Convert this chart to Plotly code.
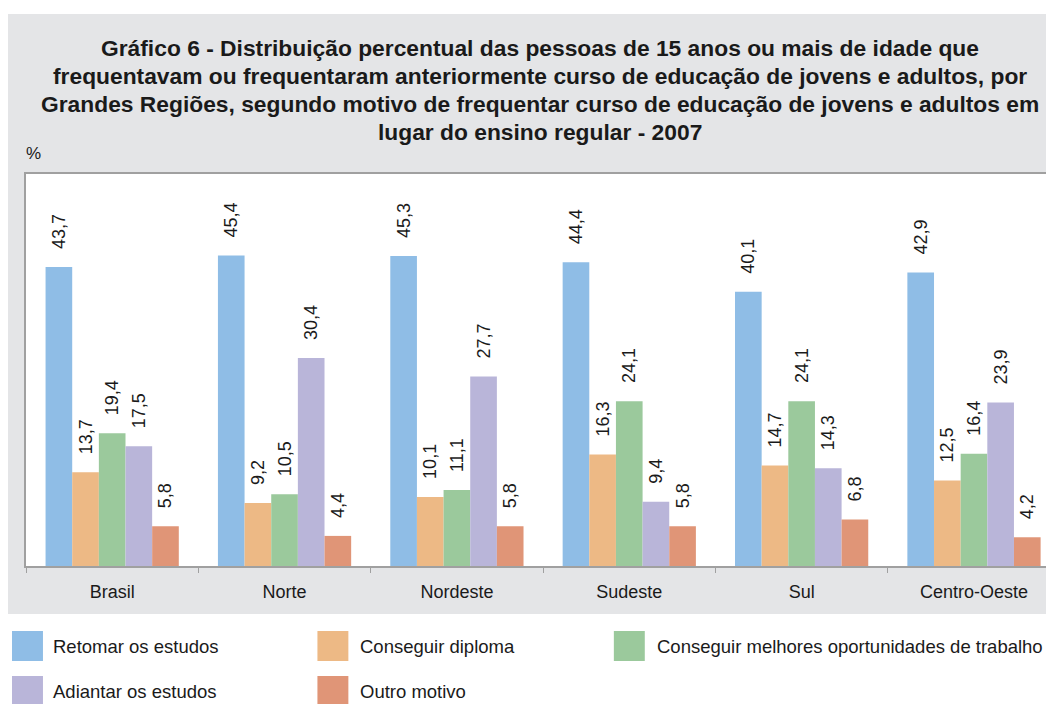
import plotly.graph_objects as go

regions = ["Brasil", "Norte", "Nordeste", "Sudeste", "Sul", "Centro-Oeste"]
series_names = [
    "Retomar os estudos",
    "Conseguir diploma",
    "Conseguir melhores oportunidades de trabalho",
    "Adiantar os estudos",
    "Outro motivo",
]
retomar = [43.7, 45.4, 45.3, 44.4, 40.1, 42.9]
diploma = [13.7, 9.2, 10.1, 16.3, 14.7, 12.5]
trabalho = [19.4, 10.5, 11.1, 24.1, 24.1, 16.4]
adiantar = [17.5, 30.4, 27.7, 9.4, 14.3, 23.9]
outro = [5.8, 4.4, 5.8, 5.8, 6.8, 4.2]
series_values = [retomar, diploma, trabalho, adiantar, outro]
colors = ["#8fbde6", "#edb985", "#9bc99c", "#b9b5d9", "#e09577"]

title_lines = [
    "Gráfico 6 - Distribuição percentual das pessoas de 15 anos ou mais de idade que",
    "frequentavam ou frequentaram anteriormente curso de educação de jovens e adultos, por",
    "Grandes Regiões, segundo motivo de frequentar curso de educação de jovens e adultos em",
    "lugar do ensino regular - 2007",
]

FONT = "Liberation Sans, Arial, Helvetica, sans-serif"
OFF = 8  # default page body margin
W, H = 1054 - OFF, 704 - OFF
# plot area in page pixels
L, R, T, B = 26, 1048, 174, 566
CAT_W = 172.7  # pixels per category in the reference (last one is cut by the frame)


def px(x):
    return (x - L) / (R - L)


def py(y):
    return (B - y) / (B - T)


def fmt(v):
    return f"{v:.1f}".replace(".", ",")


fig = go.Figure()
pad = "\u00a0" * 3
for name, vals, col in zip(series_names, series_values, colors):
    fig.add_trace(go.Bar(
        name=name, x=regions, y=vals, marker=dict(color=col, line=dict(width=0)),
        text=[pad + fmt(v) for v in vals], textposition="outside", textangle=-90,
        constraintext="none", cliponaxis=False,
        textfont=dict(family=FONT, size=18, color="#1a1a1a"),
        showlegend=False,
    ))

shapes = [
    dict(type="rect", xref="paper", yref="paper", x0=px(7), x1=px(1070), y0=py(614), y1=py(14),
         fillcolor="#e4e5e7", line=dict(width=0), layer="below"),
    dict(type="rect", xref="paper", yref="paper", x0=0, x1=1, y0=0, y1=1,
         fillcolor="white", line=dict(width=0), layer="below"),
]
annotations = []
for i, line in enumerate(title_lines):
    annotations.append(dict(text=line, xref="paper", yref="paper", x=px(541), y=py(48 + 28 * i),
                            xanchor="center", yanchor="middle", showarrow=False,
                            font=dict(family=FONT, size=22.8, color="#1a1a1a", weight="bold")))
annotations.append(dict(text="%", xref="paper", yref="paper", x=px(24), y=py(153), xanchor="left",
                        yanchor="middle", showarrow=False,
                        font=dict(family=FONT, size=17, color="#1a1a1a")))

legend_swatch = [(12, 646), (318, 646), (615, 646), (12, 691), (318, 691)]
legend_text_x = [51, 359, 656, 51, 359]
for (lx, ly), tx, name, col in zip(legend_swatch, legend_text_x, series_names, colors):
    shapes.append(dict(type="rect", xref="paper", yref="paper", x0=px(lx), x1=px(lx + 31),
                       y0=py(ly + 15), y1=py(ly - 15), fillcolor=col, line=dict(width=0)))
    annotations.append(dict(text=name, xref="paper", yref="paper", x=px(tx), y=py(ly),
                            xanchor="left", yanchor="middle", showarrow=False,
                            font=dict(family=FONT, size=18.5, color="#1a1a1a")))

fig.update_layout(
    width=W, height=H, barmode="group", bargap=0.227, bargroupgap=0,
    paper_bgcolor="white", plot_bgcolor="rgba(0,0,0,0)",
    margin=dict(l=L - OFF, r=W - (R - OFF), t=T - OFF, b=H - (B - OFF)),
    shapes=shapes, annotations=annotations,
    xaxis=dict(range=[-0.5, -0.5 + (R - L) / CAT_W],
               showline=True, linecolor="#a0a0a0", linewidth=1.5, mirror=True,
               ticks="outside", ticklen=5, tickcolor="#a0a0a0", tickson="boundaries",
               ticklabelstandoff=9,
               tickfont=dict(family=FONT, size=18, color="#1a1a1a"), showgrid=False),
    yaxis=dict(range=[0, 57.3], showline=True, linecolor="#a0a0a0", linewidth=1.5, mirror=True,
               showticklabels=False, ticks="", showgrid=False, zeroline=False),
)

fig.write_html("out.html")
